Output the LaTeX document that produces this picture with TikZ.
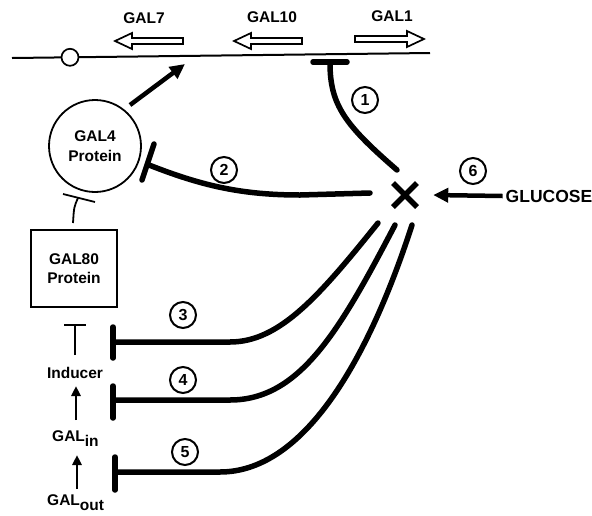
\documentclass[tikz,border=0pt]{standalone}
\usepackage{fontspec}
\setmainfont{Liberation Sans}
\usetikzlibrary{arrows.meta}
\begin{document}
\begin{tikzpicture}[x=1pt,y=-1pt,
  lbl/.style={font=\bfseries\fontsize{15.5}{17}\selectfont, inner sep=0pt},
  boxtext/.style={font=\bfseries\fontsize{15.5}{19.5}\selectfont, align=center},
  num/.style={circle, draw, line width=2pt, minimum size=26pt, inner sep=0pt, font=\bfseries\fontsize{16}{17}\selectfont},
  heavy/.style={line width=5.5pt, line cap=round},
  genearrow/.style={line width=1.7pt, fill=white, line join=miter},
  thinline/.style={line width=1.8pt},
  fatarrow/.style={line width=4.5pt, -{Triangle[length=15pt,width=14pt]}},
  smallarrow/.style={line width=2.8pt, -{Triangle[length=10pt,width=9pt]}}
]
\useasboundingbox (0,0) rectangle (592,515);

% DNA
\coordinate (dl) at (12,58);
\coordinate (dr) at (430,53);
\draw[line width=2pt] (dl) -- (dr);
\node[circle, draw, line width=1.7pt, fill=white, minimum size=17pt, inner sep=0pt] (ori) at (70,57.3) {};

% gene arrows
\draw[genearrow] (115,41) -- (132,33) -- (132,38) -- (183,38) -- (183,44) -- (132,44) -- (132,49) -- cycle;
\draw[genearrow] (234,41) -- (251,33) -- (251,38) -- (302,38) -- (302,44) -- (251,44) -- (251,49) -- cycle;
\draw[genearrow] (424,39) -- (407,31) -- (407,36) -- (355,36) -- (355,42) -- (407,42) -- (407,47) -- cycle;
\node[lbl] (g7) at (144,18) {GAL7};
\node[lbl] (g10) at (272,17) {GAL10};
\node[lbl] (g1) at (392,16) {GAL1};

% GAL4 protein
\node[circle, draw, line width=1.8pt, minimum size=92pt, inner sep=0pt, boxtext] (gal4) at (95,146) {GAL4\\Protein};
\coordinate (a4s) at (130,105);
\coordinate (a4t) at (185,64);
\draw[fatarrow] (a4s) -- (a4t);

% GAL80 protein
\node[draw, line width=1.8pt, minimum width=86pt, minimum height=77pt, inner sep=0pt, boxtext] (gal80) at (74,268.5) {GAL80\\Protein};
\coordinate (s80a) at (73,223);
\coordinate (s80b) at (78,198);
\coordinate (b80a) at (63,194);
\coordinate (b80b) at (95,202);
\draw[thinline] (s80a) .. controls (74,207) .. (s80b);
\draw[thinline] (b80a) -- (b80b);

% Inducer pathway
\node[lbl] (ind) at (75,373) {Inducer};
\node[lbl, anchor=west] (galin) at (52,439) {GAL\raisebox{-5pt}{in}};
\node[lbl, anchor=west] (galout) at (47,503) {GAL\raisebox{-5pt}{out}};
\coordinate (ti1) at (75,355);
\coordinate (ti2) at (75,325);
\coordinate (tb1) at (64,325);
\coordinate (tb2) at (86,325);
\draw[thinline] (ti1) -- (ti2);
\draw[thinline] (tb1) -- (tb2);
\coordinate (ar1s) at (76,420);
\coordinate (ar1t) at (76,386);
\coordinate (ar2s) at (77,489);
\coordinate (ar2t) at (77,455);
\draw[smallarrow] (ar1s) -- (ar1t);
\draw[smallarrow] (ar2s) -- (ar2t);

% X (glucose signal)
\node[minimum size=56pt, inner sep=0pt] (xx) at (405,195) {};
\draw[heavy, line cap=butt] (393,183) -- (417,207);
\draw[heavy, line cap=butt] (393,207) -- (417,183);

% Glucose
\node[font=\bfseries\fontsize{17.5}{19}\selectfont, inner sep=0pt] (glu) at (549,196) {GLUCOSE};
\draw[fatarrow] ([xshift=-3pt]glu.west) -- (xx.east);

% repression lines
\coordinate (e1) at (397,170);
\coordinate (r1) at (330,63);
\draw[heavy] (e1) .. controls (345,125) and (330,105) .. (r1);
\draw[heavy] (313,62) -- (347,62);

\coordinate (e2) at (370,193);
\coordinate (r2) at (149,165);
\draw[heavy] (e2) -- (300,195) .. controls (240,195) and (200,185) .. (r2);
\draw[heavy] (154,144) -- (142,180);

\coordinate (e3) at (378,223);
\coordinate (r3) at (113,342);
\draw[heavy] (e3) .. controls (320,295) and (280,342) .. (230,342) -- (r3);
\draw[heavy] (113,327) -- (113,358);

\coordinate (e4) at (395,225);
\coordinate (r4) at (113,400);
\draw[heavy] (e4) .. controls (340,330) and (300,400) .. (230,400) -- (r4);
\draw[heavy] (113,386) -- (113,418);

\coordinate (e5) at (412,225);
\coordinate (r5) at (115,472);
\draw[heavy] (e5) .. controls (365,370) and (300,472) .. (220,472) -- (r5);
\draw[heavy] (115,457) -- (115,490);

% numbers
\node[num] (n1) at (365,100) {1};
\node[num] (n2) at (224,170) {2};
\node[num] (n3) at (183,315) {3};
\node[num] (n4) at (183,380) {4};
\node[num] (n5) at (185,452) {5};
\node[num] (n6) at (473,171) {6};
\end{tikzpicture}
\end{document}
